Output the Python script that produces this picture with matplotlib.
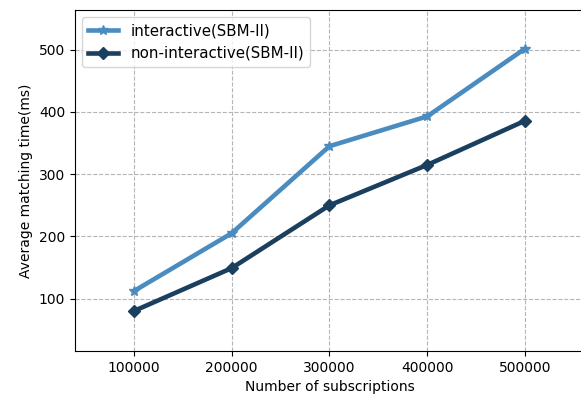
import matplotlib
matplotlib.use('Agg')
import matplotlib.pyplot as plt

subs = [100000, 200000, 300000, 400000, 500000]
interactive = [112, 205, 345, 393, 502]
non_interactive = [80, 149, 250, 315, 386]
labels = ['interactive(SBM-II)', 'non-interactive(SBM-II)']

fig = plt.figure(figsize=(5.81, 3.97), dpi=100)
ax = fig.add_axes([0.129, 0.116, 0.876, 0.859])

ax.plot(subs, interactive, color='#4a8cbf', marker='*', markersize=7, linewidth=3.3, label=labels[0])
ax.plot(subs, non_interactive, color='#1b3f5f', marker='D', markersize=6.5, linewidth=3.3, label=labels[1])

ax.set_xlim(40000, 560000)
ax.set_ylim(16, 564)
ax.set_xticks(subs)
ax.set_yticks([100, 200, 300, 400, 500])
ax.grid(True, linestyle='--', color='#b5b5b5', linewidth=0.8)
ax.set_xlabel('Number of subscriptions', fontsize=10)
ax.set_ylabel('Average matching time(ms)', fontsize=10)
ax.tick_params(labelsize=10)
ax.legend(loc='upper left', fontsize=10.8)

fig.savefig('out.png', dpi=100)
